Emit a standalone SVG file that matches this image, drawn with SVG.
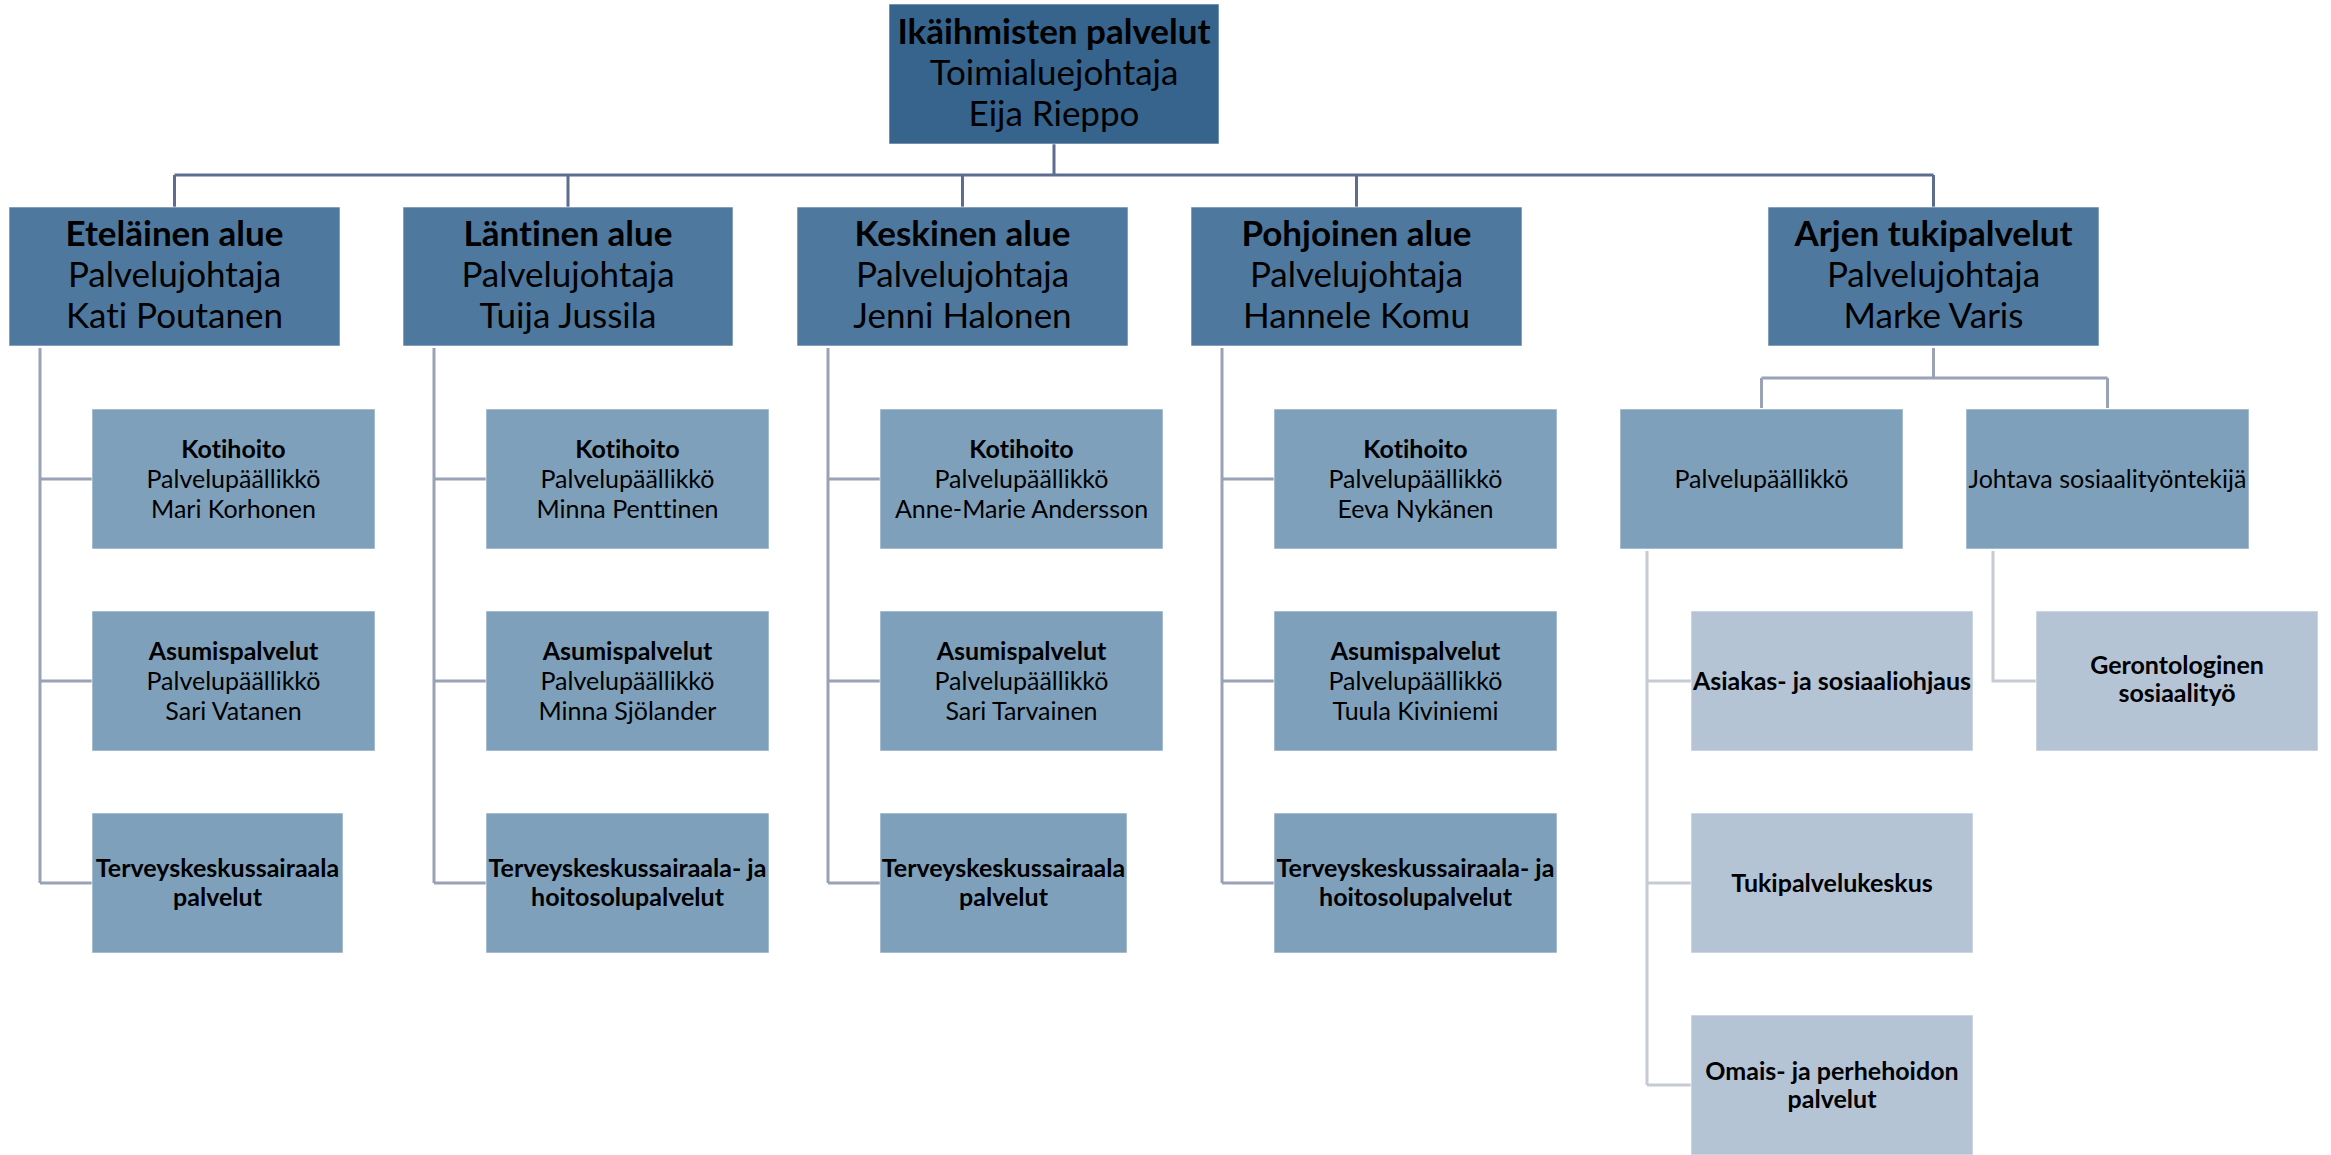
<svg xmlns="http://www.w3.org/2000/svg" width="2331" height="1155" viewBox="0 0 2331 1155">
<style>
.b1{fill:#36648C}
.b2{fill:#4E789D}
.b3{fill:#7FA0BA}
.b4{fill:#B4C4D4}
rect{stroke:#FFFFFF;stroke-opacity:0.6;stroke-width:1}
text{font-family:Lato,"Liberation Sans",sans-serif;text-anchor:middle;fill:#000000;font-variant-ligatures:none;font-feature-settings:"liga" 0,"dlig" 0}
.tl{font-size:35px}
.ts{font-size:25px}
.bd{font-weight:bold}
.c1{stroke:#5C6D8F;stroke-width:3;fill:none}
.c2{stroke:#9AA2B6;stroke-width:3;fill:none}
.c3{stroke:#C5CAD5;stroke-width:3;fill:none}
</style>
<rect width="2331" height="1155" fill="#FFFFFF" stroke="none"/>
<g id="connectors">
  <path class="c1" d="M1054 144V175M174.5 175H1933.5M174.5 175V207M568 175V207M962.5 175V207M1356.5 175V207M1933.5 175V207"/>
  <path class="c2" d="M40 348V883M40 479H92M40 681H92M40 883H92"/>
  <path class="c2" d="M434 348V883M434 479H486M434 681H486M434 883H486"/>
  <path class="c2" d="M828 348V883M828 479H880M828 681H880M828 883H880"/>
  <path class="c2" d="M1222 348V883M1222 479H1274M1222 681H1274M1222 883H1274"/>
  <path class="c2" d="M1933.5 348V378M1761.5 378H2107.5M1761.5 378V408M2107.5 378V408"/>
  <path class="c3" d="M1647 551V1085M1647 681H1691M1647 883H1691M1647 1085H1691"/>
  <path class="c3" d="M1993 551V681H2036"/>
</g>
<g id="root">
  <rect class="b1" x="889" y="4" width="330" height="140"/>
  <text class="tl" x="1054"><tspan class="bd" x="1054" y="44">Ikäihmisten palvelut</tspan><tspan x="1054" y="85">Toimialuejohtaja</tspan><tspan x="1054" y="126">Eija Rieppo</tspan></text>
</g>
<g id="etelainen">
  <rect class="b2" x="9" y="207" width="331" height="139"/>
  <text class="tl"><tspan class="bd" x="174.5" y="246">Eteläinen alue</tspan><tspan x="174.5" y="287">Palvelujohtaja</tspan><tspan x="174.5" y="328">Kati Poutanen</tspan></text>
</g>
<g id="lantinen">
  <rect class="b2" x="403" y="207" width="330" height="139"/>
  <text class="tl"><tspan class="bd" x="568" y="246">Läntinen alue</tspan><tspan x="568" y="287">Palvelujohtaja</tspan><tspan x="568" y="328">Tuija Jussila</tspan></text>
</g>
<g id="keskinen">
  <rect class="b2" x="797" y="207" width="331" height="139"/>
  <text class="tl"><tspan class="bd" x="962.5" y="246">Keskinen alue</tspan><tspan x="962.5" y="287">Palvelujohtaja</tspan><tspan x="962.5" y="328">Jenni Halonen</tspan></text>
</g>
<g id="pohjoinen">
  <rect class="b2" x="1191" y="207" width="331" height="139"/>
  <text class="tl"><tspan class="bd" x="1356.5" y="246">Pohjoinen alue</tspan><tspan x="1356.5" y="287">Palvelujohtaja</tspan><tspan x="1356.5" y="328">Hannele Komu</tspan></text>
</g>
<g id="arjen">
  <rect class="b2" x="1768" y="207" width="331" height="139"/>
  <text class="tl"><tspan class="bd" x="1933.5" y="246">Arjen tukipalvelut</tspan><tspan x="1933.5" y="287">Palvelujohtaja</tspan><tspan x="1933.5" y="328">Marke Varis</tspan></text>
</g>
<g id="etel-kotihoito">
  <rect class="b3" x="92" y="409" width="283" height="140"/>
  <text class="ts"><tspan class="bd" x="233.5" y="458">Kotihoito</tspan><tspan x="233.5" y="488">Palvelupäällikkö</tspan><tspan x="233.5" y="518">Mari Korhonen</tspan></text>
</g>
<g id="etel-asumis">
  <rect class="b3" x="92" y="611" width="283" height="140"/>
  <text class="ts"><tspan class="bd" x="233.5" y="660">Asumispalvelut</tspan><tspan x="233.5" y="690">Palvelupäällikkö</tspan><tspan x="233.5" y="720">Sari Vatanen</tspan></text>
</g>
<g id="etel-terveys">
  <rect class="b3" x="92" y="813" width="251" height="140"/>
  <text class="ts bd"><tspan x="217.5" y="877">Terveyskeskussairaala</tspan><tspan x="217.5" y="906">palvelut</tspan></text>
</g>
<g id="lant-kotihoito">
  <rect class="b3" x="486" y="409" width="283" height="140"/>
  <text class="ts"><tspan class="bd" x="627.5" y="458">Kotihoito</tspan><tspan x="627.5" y="488">Palvelupäällikkö</tspan><tspan x="627.5" y="518">Minna Penttinen</tspan></text>
</g>
<g id="lant-asumis">
  <rect class="b3" x="486" y="611" width="283" height="140"/>
  <text class="ts"><tspan class="bd" x="627.5" y="660">Asumispalvelut</tspan><tspan x="627.5" y="690">Palvelupäällikkö</tspan><tspan x="627.5" y="720">Minna Sjölander</tspan></text>
</g>
<g id="lant-terveys">
  <rect class="b3" x="486" y="813" width="283" height="140"/>
  <text class="ts bd"><tspan x="627.5" y="877">Terveyskeskussairaala- ja</tspan><tspan x="627.5" y="906">hoitosolupalvelut</tspan></text>
</g>
<g id="kesk-kotihoito">
  <rect class="b3" x="880" y="409" width="283" height="140"/>
  <text class="ts"><tspan class="bd" x="1021.5" y="458">Kotihoito</tspan><tspan x="1021.5" y="488">Palvelupäällikkö</tspan><tspan x="1021.5" y="518">Anne-Marie Andersson</tspan></text>
</g>
<g id="kesk-asumis">
  <rect class="b3" x="880" y="611" width="283" height="140"/>
  <text class="ts"><tspan class="bd" x="1021.5" y="660">Asumispalvelut</tspan><tspan x="1021.5" y="690">Palvelupäällikkö</tspan><tspan x="1021.5" y="720">Sari Tarvainen</tspan></text>
</g>
<g id="kesk-terveys">
  <rect class="b3" x="880" y="813" width="247" height="140"/>
  <text class="ts bd"><tspan x="1003.5" y="877">Terveyskeskussairaala</tspan><tspan x="1003.5" y="906">palvelut</tspan></text>
</g>
<g id="pohj-kotihoito">
  <rect class="b3" x="1274" y="409" width="283" height="140"/>
  <text class="ts"><tspan class="bd" x="1415.5" y="458">Kotihoito</tspan><tspan x="1415.5" y="488">Palvelupäällikkö</tspan><tspan x="1415.5" y="518">Eeva Nykänen</tspan></text>
</g>
<g id="pohj-asumis">
  <rect class="b3" x="1274" y="611" width="283" height="140"/>
  <text class="ts"><tspan class="bd" x="1415.5" y="660">Asumispalvelut</tspan><tspan x="1415.5" y="690">Palvelupäällikkö</tspan><tspan x="1415.5" y="720">Tuula Kiviniemi</tspan></text>
</g>
<g id="pohj-terveys">
  <rect class="b3" x="1274" y="813" width="283" height="140"/>
  <text class="ts bd"><tspan x="1415.5" y="877">Terveyskeskussairaala- ja</tspan><tspan x="1415.5" y="906">hoitosolupalvelut</tspan></text>
</g>
<g id="arjen-palvelupaallikko">
  <rect class="b3" x="1620" y="409" width="283" height="140"/>
  <text class="ts" x="1761.5" y="488">Palvelupäällikkö</text>
</g>
<g id="arjen-johtava">
  <rect class="b3" x="1966" y="409" width="283" height="140"/>
  <text class="ts" x="2107.5" y="488">Johtava sosiaalityöntekijä</text>
</g>
<g id="asiakasohjaus">
  <rect class="b4" x="1691" y="611" width="282" height="140"/>
  <text class="ts bd" x="1832" y="690">Asiakas- ja sosiaaliohjaus</text>
</g>
<g id="tukipalvelukeskus">
  <rect class="b4" x="1691" y="813" width="282" height="140"/>
  <text class="ts bd" x="1832" y="892">Tukipalvelukeskus</text>
</g>
<g id="omaishoito">
  <rect class="b4" x="1691" y="1015" width="282" height="140"/>
  <text class="ts bd"><tspan x="1832" y="1080">Omais- ja perhehoidon</tspan><tspan x="1832" y="1108">palvelut</tspan></text>
</g>
<g id="gerontologinen">
  <rect class="b4" x="2036" y="611" width="282" height="140"/>
  <text class="ts bd"><tspan x="2177" y="674">Gerontologinen</tspan><tspan x="2177" y="702">sosiaalityö</tspan></text>
</g>
</svg>
